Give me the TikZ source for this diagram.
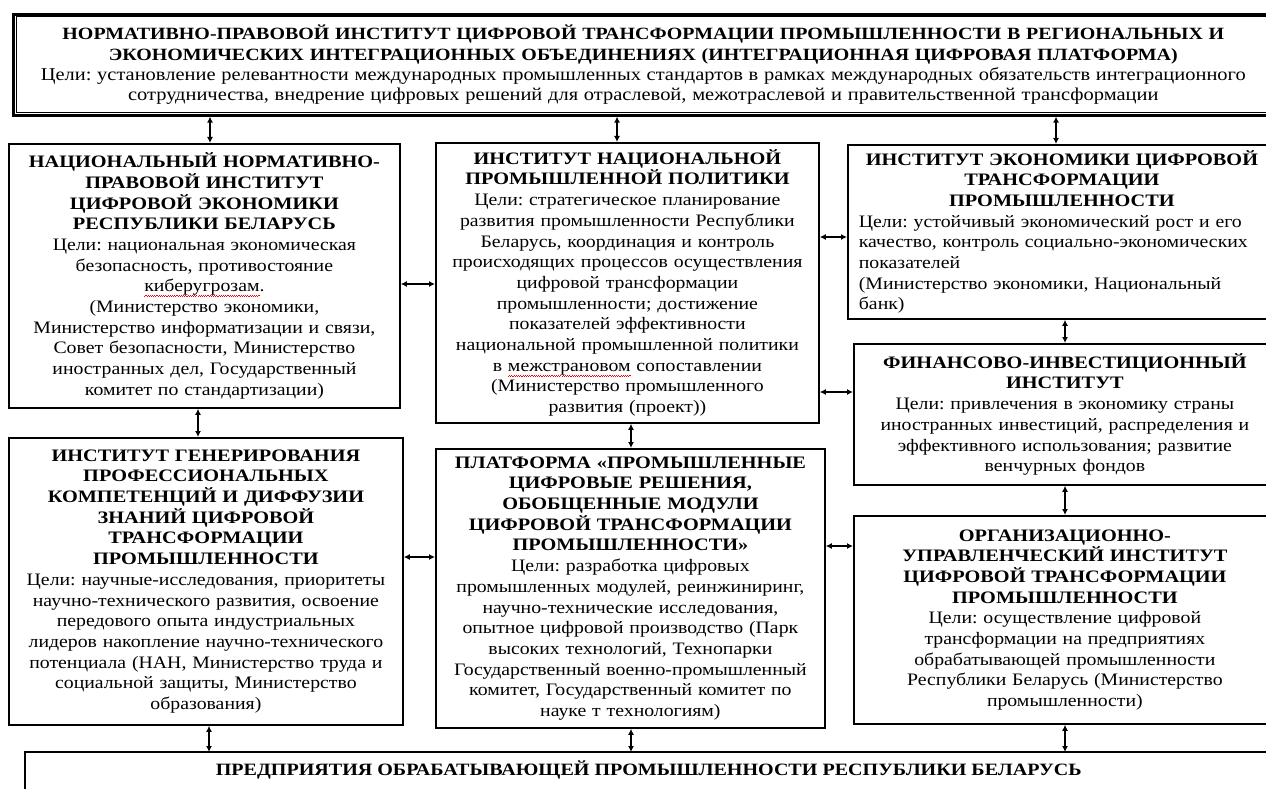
\documentclass[tikz,border=0pt]{standalone}
\usepackage{fontspec}
\setmainfont{Liberation Serif}[FakeStretch=1.13, BoldFeatures={FakeStretch=1.16}]
\usetikzlibrary{arrows.meta}
\frenchspacing
\newsavebox{\spellbox}
\newcommand{\wavebit}{\rule[-0.5pt]{1.1pt}{0.7pt}\rule[0.3pt]{1.1pt}{0.7pt}}
\newcommand{\spellerr}[1]{\leavevmode\sbox{\spellbox}{#1}\rlap{\raisebox{-4.5pt}[0pt][0pt]{\color{red}\hbox to\wd\spellbox{\xleaders\hbox{\wavebit}\hfil}}}\usebox{\spellbox}}
\begin{document}
\begin{tikzpicture}[x=1pt,y=-1pt,
  box/.style={draw, line width=1.8pt, anchor=north west, inner sep=0pt, align=center,
    font=\fontsize{17.5}{20.7}\selectfont},
  arr/.style={{Latex[length=6pt,width=6pt]}-{Latex[length=6pt,width=6pt]}, line width=1.6pt}]
\useasboundingbox (0,0) rectangle (1266,789);
\fill[white] (0,0) rectangle (1266,789);
\clip (0,0) rectangle (1266,789);

% top box
\node[box, line width=2.6pt, minimum width=1260pt, minimum height=101pt, text width=1250pt,
  font=\fontsize{17.2}{20.2}\selectfont] (top) at (12,13)
 {\bfseries НОРМАТИВНО-ПРАВОВОЙ ИНСТИТУТ ЦИФРОВОЙ ТРАНСФОРМАЦИИ ПРОМЫШЛЕННОСТИ В РЕГИОНАЛЬНЫХ И\\
  ЭКОНОМИЧЕСКИХ ИНТЕГРАЦИОННЫХ ОБЪЕДИНЕНИЯХ (ИНТЕГРАЦИОННАЯ ЦИФРОВАЯ ПЛАТФОРМА)\\
  \mdseries\fontsize{18.1}{20.2}\selectfont Цели: установление релевантности международных промышленных стандартов в рамках международных обязательств интеграционного\\
  сотрудничества, внедрение цифровых решений для отраслевой, межотраслевой и правительственной трансформации};
\draw[line width=1pt] ([shift={(4,4)}]top.north west) rectangle ([shift={(-4,-4)}]top.south east);

% left column
\node[box, minimum width=391pt, minimum height=264pt, text width=387pt] (L1) at (8,143)
 {\bfseries НАЦИОНАЛЬНЫЙ НОРМАТИВНО-\\ПРАВОВОЙ ИНСТИТУТ\\ЦИФРОВОЙ ЭКОНОМИКИ\\РЕСПУБЛИКИ БЕЛАРУСЬ\\
  \mdseries Цели: национальная экономическая\\безопасность, противостояние\\\spellerr{киберугрозам}.\\
  (Министерство экономики,\\Министерство информатизации и связи,\\Совет безопасности, Министерство\\
  иностранных дел, Государственный\\комитет по стандартизации)};

\node[box, minimum width=394pt, minimum height=287pt, text width=390pt] (L2) at (8,437)
 {\bfseries ИНСТИТУТ ГЕНЕРИРОВАНИЯ\\ПРОФЕССИОНАЛЬНЫХ\\КОМПЕТЕНЦИЙ И ДИФФУЗИИ\\ЗНАНИЙ ЦИФРОВОЙ\\
  ТРАНСФОРМАЦИИ\\ПРОМЫШЛЕННОСТИ\\
  \mdseries Цели: научные-исследования, приоритеты\\научно-технического развития, освоение\\
  передового опыта индустриальных\\лидеров накопление научно-технического\\
  потенциала (НАН, Министерство труда и\\социальной защиты, Министерство\\образования)};

% middle column
\node[box, minimum width=383pt, minimum height=280pt, text width=379pt] (M1) at (435,142)
 {\bfseries ИНСТИТУТ НАЦИОНАЛЬНОЙ\\ПРОМЫШЛЕННОЙ ПОЛИТИКИ\\
  \mdseries Цели: стратегическое планирование\\развития промышленности Республики\\
  Беларусь, координация и контроль\\происходящих процессов осуществления\\
  цифровой трансформации\\промышленности; достижение\\показателей эффективности\\
  национальной промышленной политики\\в \spellerr{межстрановом} сопоставлении\\
  (Министерство промышленного\\развития (проект))};

\node[box, minimum width=389pt, minimum height=279pt, text width=385pt] (M2) at (435,448)
 {\bfseries ПЛАТФОРМА «ПРОМЫШЛЕННЫЕ\\ЦИФРОВЫЕ РЕШЕНИЯ,\\ОБОБЩЕННЫЕ МОДУЛИ\\
  ЦИФРОВОЙ ТРАНСФОРМАЦИИ\\ПРОМЫШЛЕННОСТИ»\\
  \mdseries Цели: разработка цифровых\\промышленных модулей, реинжиниринг,\\
  научно-технические исследования,\\опытное цифровой производство (Парк\\
  высоких технологий, Технопарки\\Государственный военно-промышленный\\
  комитет, Государственный комитет по\\науке т технологиям)};

% right column
\node[box, minimum width=428pt, minimum height=174pt, text width=424pt] (R1) at (847,144)
 {\bfseries ИНСТИТУТ ЭКОНОМИКИ ЦИФРОВОЙ\\ТРАНСФОРМАЦИИ\\ПРОМЫШЛЕННОСТИ\\
  \mdseries \makebox[406pt][l]{Цели: устойчивый экономический рост и его}\\
  \makebox[406pt][l]{качество, контроль социально-экономических}\\
  \makebox[406pt][l]{показателей}\\
  \makebox[406pt][l]{(Министерство экономики, Национальный}\\
  \makebox[406pt][l]{банк)}};

\node[box, minimum width=422pt, minimum height=141pt, text width=418pt] (R2) at (853,343)
 {\bfseries ФИНАНСОВО-ИНВЕСТИЦИОННЫЙ\\ИНСТИТУТ\\
  \mdseries Цели: привлечения в экономику страны\\иностранных инвестиций, распределения и\\
  эффективного использования; развитие\\венчурных фондов};

\node[box, minimum width=422pt, minimum height=208pt, text width=418pt] (R3) at (853,515)
 {\bfseries ОРГАНИЗАЦИОННО-\\УПРАВЛЕНЧЕСКИЙ ИНСТИТУТ\\ЦИФРОВОЙ ТРАНСФОРМАЦИИ\\ПРОМЫШЛЕННОСТИ\\
  \mdseries Цели: осуществление цифровой\\трансформации на предприятиях\\
  обрабатывающей промышленности\\Республики Беларусь (Министерство\\промышленности)};

% bottom box
\node[anchor=north west, inner sep=0pt, minimum width=1247pt, minimum height=36pt,
  font=\fontsize{17.3}{20.7}\selectfont\bfseries] (bot) at (25,752)
 {ПРЕДПРИЯТИЯ ОБРАБАТЫВАЮЩЕЙ ПРОМЫШЛЕННОСТИ РЕСПУБЛИКИ БЕЛАРУСЬ};
\draw[line width=1.8pt] ([yshift=-60pt]bot.north west) -- (bot.north west) -- (bot.north east) -- ++(0,60);

% connector positions
\coordinate (xa) at (210,0);
\coordinate (xb) at (617,0);
\coordinate (xc) at (1056,0);
\coordinate (xd) at (198,0);
\coordinate (xe) at (631,0);
\coordinate (xf) at (1065,0);
\coordinate (xg) at (209,0);
\coordinate (ya) at (0,284);
\coordinate (yb) at (0,237);
\coordinate (yc) at (0,392);
\coordinate (yd) at (0,557);
\coordinate (ye) at (0,546);

\draw[arr] (top.south -| xa) -- (L1.north -| xa);
\draw[arr] (top.south -| xb) -- (M1.north -| xb);
\draw[arr] (top.south -| xc) -- (R1.north -| xc);
\draw[arr] (L1.south -| xd) -- (L2.north -| xd);
\draw[arr] (M1.south -| xe) -- (M2.north -| xe);
\draw[arr] (R1.south -| xf) -- (R2.north -| xf);
\draw[arr] (R2.south -| xf) -- (R3.north -| xf);
\draw[arr] (L2.south -| xg) -- (bot.north -| xg);
\draw[arr] (M2.south -| xe) -- (bot.north -| xe);
\draw[arr] (R3.south -| xf) -- (bot.north -| xf);
\draw[arr] (L1.east |- ya) -- (M1.west |- ya);
\draw[arr] (M1.east |- yb) -- (R1.west |- yb);
\draw[arr] (M1.east |- yc) -- (R2.west |- yc);
\draw[arr] (L2.east |- yd) -- (M2.west |- yd);
\draw[arr] (M2.east |- ye) -- (R3.west |- ye);
\end{tikzpicture}
\end{document}
